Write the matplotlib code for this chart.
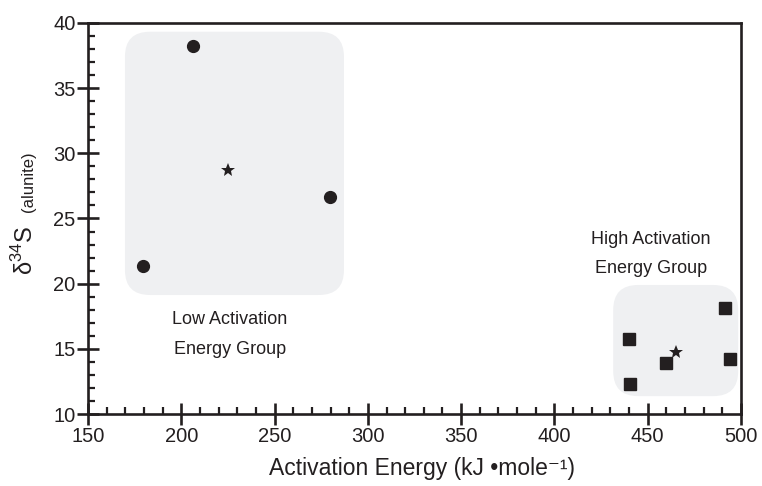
import matplotlib
matplotlib.use("Agg")
import matplotlib.pyplot as plt
from matplotlib.patches import FancyBboxPatch
from matplotlib.ticker import MultipleLocator

plt.rcParams['font.family'] = ['Liberation Sans', 'DejaVu Sans']

# Data
low_x = [179.3, 206.4, 279.7]
low_y = [21.35, 38.23, 26.67]
low_mean = (225.2, 28.72)
high_x = [491.4, 439.9, 459.8, 440.5, 494.0]
high_y = [18.15, 15.77, 13.93, 12.3, 14.24]
high_mean = (465.4, 14.77)
low_box = (169.8, 19.13, 287.2, 39.33)
high_box = (431.5, 11.37, 498.5, 19.9)

ink = '#231F20'
fig = plt.figure(figsize=(7.62, 4.86), dpi=100)
ax = fig.add_axes([88/762, 72/486, (741-88)/762, (414-23)/486])
ax.set_xlim(150, 500)
ax.set_ylim(10, 40)

# rounded boxes
xpx = (741-88)/350
ypx = (414-23)/30
aspect = xpx/ypx
for (x0, y0, x1, y1) in [low_box, high_box]:
    p = FancyBboxPatch((x0, y0), x1-x0, y1-y0,
                       boxstyle="round,pad=0,rounding_size=%f" % (25/xpx),
                       mutation_aspect=aspect, fc='#EFF0F2', ec='none', zorder=1)
    ax.add_patch(p)

ax.plot(low_x, low_y, 'o', color=ink, ms=8.5, zorder=3)
ax.plot(high_x, high_y, 's', color=ink, ms=8.5, zorder=3)
ax.plot([low_mean[0]], [low_mean[1]], '*', color=ink, ms=10.5, mew=0, zorder=3)
ax.plot([high_mean[0]], [high_mean[1]], '*', color=ink, ms=10.5, mew=0, zorder=3)

ax.text(226, 16.09, "Low Activation\nEnergy Group", ha='center', va='center',
        fontsize=13, color=ink, linespacing=1.95)
ax.text(451.7, 22.27, "High Activation\nEnergy Group", ha='center', va='center',
        fontsize=13, color=ink, linespacing=1.95)

for s in ax.spines.values():
    s.set_linewidth(1.9)
    s.set_color(ink)
ax.xaxis.set_major_locator(MultipleLocator(50))
ax.xaxis.set_minor_locator(MultipleLocator(10))
ax.yaxis.set_major_locator(MultipleLocator(5))
ax.yaxis.set_minor_locator(MultipleLocator(1))
ax.tick_params(which='major', direction='inout', length=16, width=1.9, color=ink,
               labelsize=14.5, labelcolor=ink, pad=1)
ax.tick_params(which='minor', direction='in', length=5, width=1.6, color=ink)
ax.tick_params(top=False, right=False, which='both')

fig.text(422/762, 1-468/486, "Activation Energy (kJ \u2022mole\u207b\u00b9)",
         ha='center', va='center', fontsize=16.5, color=ink)
fig.text(33/762, 1-250/486, "\u03b4$^{\\mathregular{34}}$S", rotation=90,
         rotation_mode='anchor', ha='center', va='baseline', fontsize=17, color=ink)
fig.text(33/762, 1-182/486, "(alunite)", rotation=90,
         rotation_mode='anchor', ha='center', va='baseline', fontsize=12, color=ink)

fig.savefig("out.png", dpi=100)
